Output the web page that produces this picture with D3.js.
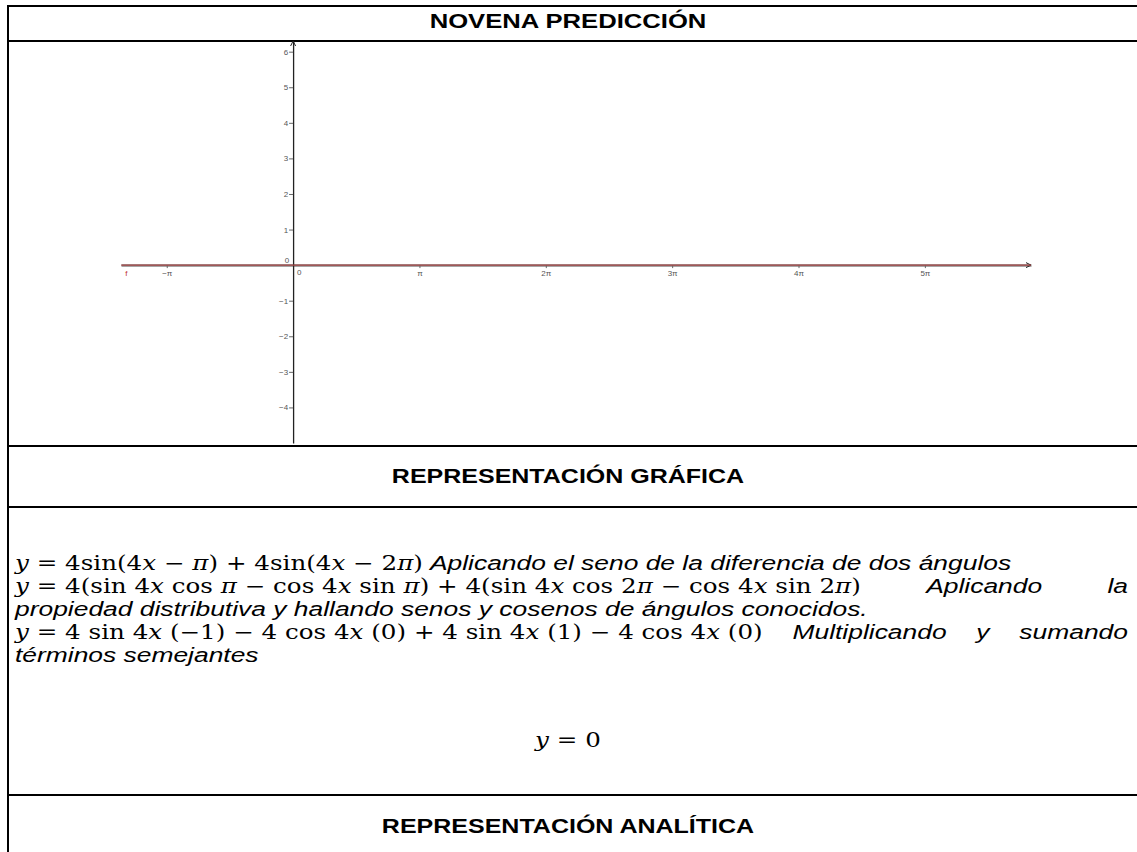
<!DOCTYPE html>
<html>
<head>
<meta charset="utf-8">
<script src="https://cdn.jsdelivr.net/npm/d3@7"></script>
<style>
  body { margin: 0; background: #fff; }
</style>
</head>
<body>
<div id="chart"></div>
<script>
// Values (x in multiples of pi)
var yTickValues = [-4, -3, -2, -1, 1, 2, 3, 4, 5, 6];
var xTickValues = [-1, 1, 2, 3, 4, 5];
var xTickLabels = ["−π", "π", "2π", "3π", "4π", "5π"];
// f(x) = 4sin(4x - π) + 4sin(4x - 2π) is flat on zero over the window
var fX = [-1.36, 5.84];
var fY = [0, 0];

var titleText = "NOVENA PREDICCIÓN";
var graphHeading = "REPRESENTACIÓN GRÁFICA";
var analyticHeading = "REPRESENTACIÓN ANALÍTICA";

// Each line is a list of pieces: "m" = math, "t" = italic text
var textLines = [
  { justify: false, pieces: [["m", "y = 4sin(4x − π) + 4sin(4x − 2π)"], ["t", "Aplicando el seno de la diferencia de dos ángulos"]] },
  { justify: true, pieces: [["m", "y = 4(sin 4x cos π − cos 4x sin π) + 4(sin 4x cos 2π − cos 4x sin 2π)"], ["t", "Aplicando"], ["t", "la"]] },
  { justify: false, pieces: [["t", "propiedad distributiva y hallando senos y cosenos de ángulos conocidos."]] },
  { justify: true, pieces: [["m", "y = 4 sin 4x (−1) − 4 cos 4x (0) + 4 sin 4x (1) − 4 cos 4x (0)"], ["t", "Multiplicando"], ["t", "y"], ["t", "sumando"]] },
  { justify: false, pieces: [["t", "términos semejantes"]] }
];
var resultText = "y = 0";

// SVG area
var svgWidth = 1137;
var svgHeight = 852;
var centerX = 568;

// the document text is drawn wider than tall, as in the picture
var stretchText = 1.32;
var stretchMath = 1.26;
var stretchHead = 1.25;

var svg = d3.select("#chart")
  .append("svg")
  .attr("width", svgWidth)
  .attr("height", svgHeight)
  .style("background", "#fff");

function stretch(t, k) {
  var w = t.node().getComputedTextLength();
  t.attr("textLength", w * k).attr("lengthAdjust", "spacingAndGlyphs");
  return w * k;
}

// Table rules
var tableLeft = 8;
var rowLines = [6, 41, 446, 507, 795];

svg.selectAll(".hline")
  .data(rowLines)
  .enter()
  .append("line")
  .attr("class", "hline")
  .attr("x1", tableLeft - 1)
  .attr("x2", svgWidth)
  .attr("y1", d => d)
  .attr("y2", d => d)
  .attr("stroke", "#000")
  .attr("stroke-width", 2);

svg.append("line")
  .attr("x1", tableLeft)
  .attr("x2", tableLeft)
  .attr("y1", rowLines[0] - 1)
  .attr("y2", svgHeight)
  .attr("stroke", "#000")
  .attr("stroke-width", 2);

// Headings
function heading(txt, y, size) {
  var t = svg.append("text")
    .attr("y", y)
    .style("font-family", "'Liberation Sans', Arial, sans-serif")
    .style("font-weight", "bold")
    .style("font-size", size + "px")
    .text(txt);
  var w = stretch(t, stretchHead);
  t.attr("x", centerX - w / 2);
}
heading(titleText, 28, 20.5);
heading(graphHeading, 483, 20);
heading(analyticHeading, 833, 20);

// ---- Graph ----
var xScale = d3.scaleLinear().domain([-1.362, 5.84]).range([121, 1031]);
var yScale = d3.scaleLinear().domain([-5, 6.3]).range([443, 41]);

var tickFont = "'Liberation Sans', Arial, sans-serif";

var xAxis = d3.axisBottom(xScale)
  .tickValues(xTickValues)
  .tickFormat((d, i) => xTickLabels[i])
  .tickSize(3)
  .tickSizeOuter(0)
  .tickPadding(2);

var gx = svg.append("g")
  .attr("transform", `translate(0, ${yScale(0)})`)
  .call(xAxis);
gx.select(".domain").attr("stroke", "#888").attr("stroke-width", 2.5);

var yAxis = d3.axisLeft(yScale)
  .tickValues(yTickValues)
  .tickFormat(d => d < 0 ? "−" + Math.abs(d) : d)
  .tickSize(4)
  .tickSizeOuter(0)
  .tickPadding(1);

var gy = svg.append("g")
  .attr("transform", `translate(${xScale(0)}, 0)`)
  .call(yAxis);
gy.select(".domain").attr("stroke", "#222").attr("stroke-width", 1.3);

[gx, gy].forEach(function(g) {
  g.selectAll(".tick line").attr("stroke", "#666");
  g.selectAll(".tick text")
    .attr("fill", "#555")
    .style("font-family", tickFont)
    .style("font-size", "8px");
});

// Origin labels
svg.append("text")
  .attr("x", xScale(0) - 4)
  .attr("y", yScale(0) - 2)
  .attr("text-anchor", "end")
  .attr("fill", "#555")
  .style("font-family", tickFont)
  .style("font-size", "8px")
  .text("0");
svg.append("text")
  .attr("x", xScale(0) + 4)
  .attr("y", yScale(0) + 10)
  .attr("fill", "#555")
  .style("font-family", tickFont)
  .style("font-size", "8px")
  .text("0");

// Arrow heads
svg.append("path")
  .attr("d", `M${xScale(0) - 2.5},${yScale.range()[1] + 5} L${xScale(0)},${yScale.range()[1]} L${xScale(0) + 2.5},${yScale.range()[1] + 5}`)
  .attr("fill", "none")
  .attr("stroke", "#222")
  .attr("stroke-width", 1);
svg.append("path")
  .attr("d", `M${xScale.range()[1] - 5},${yScale(0) - 2.5} L${xScale.range()[1]},${yScale(0)} L${xScale.range()[1] - 5},${yScale(0) + 2.5}`)
  .attr("fill", "none")
  .attr("stroke", "#222")
  .attr("stroke-width", 1);

// Function f
var fLine = d3.line()
  .x(d => xScale(d[0]))
  .y(d => yScale(d[1]));

svg.append("path")
  .datum(d3.zip(fX, fY))
  .attr("d", fLine)
  .attr("fill", "none")
  .attr("stroke", "#a84848")
  .attr("stroke-width", 1.4);

svg.append("text")
  .attr("x", xScale(fX[0]) + 4)
  .attr("y", yScale(0) + 11)
  .attr("fill", "#c03030")
  .style("font-family", tickFont)
  .style("font-size", "8px")
  .text("f");

// ---- Analytic text ----
var mathFont = "'DejaVu Serif', 'Liberation Serif', serif";
var textFont = "'Liberation Sans', Arial, sans-serif";
var mathSize = 19.5;
var textSize = 20;

// returns the text and its drawn width
function addPiece(x, y, piece) {
  var t = svg.append("text").attr("x", x).attr("y", y).style("white-space", "pre");
  if (piece[0] === "m") {
    t.style("font-family", mathFont).style("font-size", mathSize + "px");
    // italic variables, upright sin/cos and digits
    var runs = [];
    piece[1].split("").forEach(function(ch) {
      var it = "xyπ".indexOf(ch) >= 0;
      if (runs.length && runs[runs.length - 1].it === it) runs[runs.length - 1].s += ch;
      else runs.push({ it: it, s: ch });
    });
    runs.forEach(function(r) {
      t.append("tspan")
        .style("font-style", r.it ? "italic" : "normal")
        .style("white-space", "pre")
        .text(r.s);
    });
    return { t: t, w: stretch(t, stretchMath) };
  }
  t.style("font-family", textFont)
    .style("font-size", textSize + "px")
    .style("font-style", "italic")
    .text(piece[1]);
  return { t: t, w: stretch(t, stretchText) };
}

var textLeft = 15;
var textRight = 1128;
var lineY = [570, 593, 616, 639, 662];

textLines.forEach(function(line, li) {
  var y = lineY[li];
  var items = line.pieces.map(p => addPiece(0, y, p));
  var gap = 7;
  if (line.justify && items.length > 1) {
    gap = (textRight - textLeft - d3.sum(items, d => d.w)) / (items.length - 1);
  }
  var x = textLeft;
  items.forEach(function(it) {
    it.t.attr("x", x);
    x += it.w + gap;
  });
});

var res = addPiece(0, 747, ["m", resultText]);
res.t.attr("x", centerX - res.w / 2);
</script>
</body>
</html>
